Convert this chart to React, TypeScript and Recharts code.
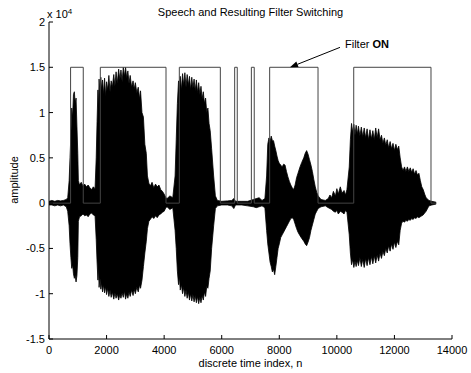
import React from "react";
import {
  Area,
  ComposedChart,
  Line,
  ReferenceDot,
  ReferenceLine,
  XAxis,
  YAxis,
} from "recharts";

// envolvente de la voz: [muestra n, máximo, mínimo]
const silencioInicial = [
  [0, 200, -200], [100, 300, -200], [200, 200, -300], [300, 300, -200],
  [400, 250, -300], [500, 300, -200], [600, 400, -400], [650, 600, -900],
];
const rafaga1 = [
  [700, 2500, -2500], [730, 5000, -4500], [760, 7500, -6000], [790, 10500, -7200],
  [820, 9500, -6800], [850, 12000, -7800], [880, 12300, -8300], [910, 11000, -8000],
  [940, 11600, -8700], [970, 8500, -8000], [1000, 5500, -6000], [1020, 2500, -2000],
  [1060, 2000, -1500], [1120, 2300, -1400], [1180, 1900, -1200], [1240, 2100, -1400],
  [1300, 1800, -1300], [1360, 2000, -1500], [1420, 1700, -1200], [1480, 1500, -1100],
  [1540, 1800, -1300], [1600, 1600, -1400],
];
const rafaga2 = [
  [1640, 5000, -4000], [1670, 9000, -6500], [1700, 12500, -8500], [1720, 10500, -7000],
  [1740, 13700, -9300], [1770, 12000, -8200], [1800, 13900, -9500], [1830, 12500, -8800],
  [1860, 13600, -9800], [1900, 12000, -9000], [1930, 13800, -9900], [1970, 11800, -9200],
  [2000, 13400, -10100], [2040, 12500, -9400], [2080, 14100, -10300], [2120, 12300, -9600],
  [2160, 13500, -10400], [2200, 12800, -9800], [2250, 14200, -10600], [2290, 12900, -9900],
  [2330, 14500, -10500], [2370, 13200, -10000], [2420, 14800, -10700], [2460, 13600, -10100],
  [2500, 14700, -10500], [2540, 13400, -9900], [2580, 15000, -10400], [2620, 14000, -9700],
  [2660, 15000, -10600], [2700, 13800, -10000], [2740, 14600, -10500], [2780, 13200, -9800],
  [2820, 14100, -10300], [2870, 12800, -9600], [2920, 13500, -10200], [2960, 12600, -9500],
  [3000, 13300, -10000], [3050, 12200, -9300], [3100, 12800, -9800], [3150, 11500, -9000],
  [3180, 12400, -9400], [3230, 10000, -8500], [3280, 9500, -7000], [3330, 6500, -5500],
  [3380, 5500, -4200], [3420, 3000, -2800], [3470, 2200, -2000], [3520, 1900, -1800],
  [3580, 2300, -1500], [3640, 1700, -1700], [3700, 2100, -1400], [3760, 1800, -1600],
  [3820, 2000, -1300], [3880, 1500, -1200], [3940, 1300, -1000], [4000, 1000, -900],
  [4060, 600, -500], [4100, 500, -400], [4200, 800, -700], [4300, 600, -500],
];
const rafaga3 = [
  [4380, 3000, -3000], [4420, 7000, -5000], [4460, 11000, -7500], [4500, 13500, -9000],
  [4530, 12000, -8200], [4560, 14000, -9600], [4600, 12500, -9000], [4640, 14300, -10000],
  [4680, 13000, -9300], [4720, 14400, -10300], [4760, 12800, -9600], [4800, 14200, -10500],
  [4840, 13000, -9800], [4880, 14000, -10700], [4920, 12500, -10000], [4960, 13900, -10800],
  [5000, 12700, -10100], [5040, 13700, -10900], [5080, 12400, -10200], [5120, 13600, -11000],
  [5160, 12200, -10300], [5200, 13300, -11100], [5240, 12000, -10400], [5280, 12900, -11000],
  [5320, 11500, -10200], [5360, 12300, -10700], [5400, 11000, -9800], [5440, 11600, -10300],
  [5480, 10000, -9200], [5520, 10500, -9400], [5560, 8800, -8300], [5600, 8000, -7500],
  [5650, 6000, -5000], [5720, 3000, -2500], [5780, 800, -600], [5850, 300, -300],
];
const silencioMedio = [
  [6000, 200, -200], [6200, 250, -200], [6350, 300, -300], [6420, 500, -600],
  [6480, 200, -200], [6700, 200, -200], [6900, 200, -300], [7100, 400, -400],
  [7200, 500, -500], [7300, 600, -400], [7400, 300, -300], [7500, 500, -500],
];
const rafaga4 = [
  [7560, 3000, -3000], [7600, 6500, -4500], [7640, 7200, -5500], [7680, 6800, -6500],
  [7720, 7400, -7000], [7760, 6900, -7600], [7800, 6900, -7300], [7840, 6300, -7900],
  [7880, 5800, -7000], [7920, 5200, -6000], [7960, 4700, -5000], [8000, 4400, -4500],
  [8050, 4200, -3800], [8100, 4000, -3500], [8150, 4300, -3200], [8200, 4200, -2900],
  [8250, 3500, -2600], [8300, 2900, -2300], [8350, 2400, -2000], [8400, 2000, -1700],
  [8450, 1700, -1600], [8500, 1500, -1800], [8550, 2000, -2300], [8600, 2800, -2800],
  [8650, 3300, -3200], [8720, 4000, -3600], [8780, 4500, -3900], [8850, 5000, -4200],
  [8900, 5500, -4500], [8950, 5800, -4700], [9000, 5400, -4300], [9050, 4800, -3800],
  [9100, 4200, -3000], [9150, 3500, -2400], [9200, 2600, -1800], [9250, 1800, -1200],
  [9300, 1200, -900], [9350, 800, -600], [9450, 400, -400],
];
const ruido = [
  [9600, 300, -300], [9700, 500, -500], [9760, 900, -600], [9820, 600, -700],
  [9880, 1300, -900], [9950, 800, -1000], [10000, 1600, -800], [10050, 1000, -1200],
  [10120, 1800, -900], [10180, 1100, -1000], [10250, 1400, -1200], [10300, 900, -800],
  [10350, 1500, -1000],
];
const rafaga5 = [
  [10430, 4000, -3500], [10470, 7000, -5500], [10510, 8800, -6800], [10550, 7800, -6200],
  [10590, 8700, -7100], [10630, 7500, -6400], [10670, 8600, -7000], [10710, 7600, -6300],
  [10750, 8500, -6900], [10800, 7400, -6000], [10850, 8400, -7000], [10900, 7300, -6200],
  [10950, 8300, -7100], [11000, 7200, -6100], [11050, 8200, -6900], [11100, 7000, -6000],
  [11150, 8100, -6800], [11200, 7100, -5900], [11250, 8000, -6700], [11300, 7000, -5800],
  [11350, 8300, -6600], [11400, 7200, -5700], [11450, 8200, -6400], [11500, 7000, -5500],
  [11550, 7500, -6100], [11600, 6600, -5300], [11650, 7200, -5800], [11700, 6400, -5000],
  [11750, 7000, -5500], [11800, 6100, -4700], [11850, 6800, -5300], [11900, 6000, -4500],
  [11950, 6600, -5100], [12000, 5800, -4300], [12050, 6500, -4900], [12100, 5900, -4200],
  [12150, 6300, -4600], [12200, 5000, -3000], [12250, 4000, -2200], [12300, 3600, -2000],
  [12350, 4000, -2100], [12400, 3500, -1900], [12450, 4000, -2000], [12500, 3500, -1800],
  [12550, 3900, -1900], [12600, 3400, -1700], [12650, 3800, -1800], [12700, 3200, -1600],
  [12750, 3600, -1700], [12800, 3100, -1500], [12850, 3300, -1600], [12900, 2500, -1500],
  [12950, 1800, -1400], [13000, 1500, -1300], [13050, 1000, -1100], [13100, 600, -900],
  [13200, 300, -300], [13300, 200, -200], [13450, 100, -100],
];

// conmutación del filtro (encendido = 1.5e4)
const cambiosFiltro = [0, 750, 1190, 1783, 4065, 4527, 5952, 6450, 6540, 7030, 7130, 7666, 9346, 10586, 13270, 13450];
const estadoFiltro = [0, 15000, 0, 15000, 0, 15000, 0, 15000, 0, 15000, 0, 15000, 0, 15000, 0, 0];

const ticksX = [0, 2000, 4000, 6000, 8000, 10000, 12000, 14000];
const ticksY = [-15000, -10000, -5000, 0, 5000, 10000, 15000, 20000];

const datosVoz = [
  ...silencioInicial, ...rafaga1, ...rafaga2, ...rafaga3, ...silencioMedio,
  ...rafaga4, ...ruido, ...rafaga5,
].map(([n, hi, lo]) => ({ n, rango: [lo, hi] }));
const datosFiltro = cambiosFiltro.map((n, i) => ({ n, f: estadoFiltro[i] }));

const fuente = "'Liberation Sans', Arial, sans-serif";
const TICK = 4;

const TickAbajo = (props: any) => {
  const { x, y, payload } = props;
  return (
    <g>
      <line x1={x} y1={y} x2={x} y2={y - TICK} stroke="#000" />
      <text x={x} y={y + 15} textAnchor="middle" fontSize={11} fontFamily={fuente} fill="#000">
        {payload.value}
      </text>
    </g>
  );
};

const TickArriba = (props: any) => {
  const { x, y } = props;
  return <line x1={x} y1={y} x2={x} y2={y + TICK} stroke="#000" />;
};

const TickIzq = (props: any) => {
  const { x, y, payload } = props;
  return (
    <g>
      <line x1={x} y1={y} x2={x + TICK} y2={y} stroke="#000" />
      <text x={x - 4} y={y + 4} textAnchor="end" fontSize={11} fontFamily={fuente} fill="#000">
        {String(payload.value / 10000)}
      </text>
    </g>
  );
};

const TickDer = (props: any) => {
  const { x, y } = props;
  return <line x1={x} y1={y} x2={x - TICK} y2={y} stroke="#000" />;
};

const Flecha = (props: any) => {
  const { x1, y1, x2, y2 } = props;
  const ang = Math.atan2(y2 - y1, x2 - x1);
  const L = 8;
  const W = 3;
  const bx = x2 - L * Math.cos(ang);
  const by = y2 - L * Math.sin(ang);
  const px = -Math.sin(ang) * W;
  const py = Math.cos(ang) * W;
  return (
    <g>
      <line x1={x1} y1={y1} x2={bx} y2={by} stroke="#000" strokeWidth={1} />
      <polygon points={`${x2},${y2} ${bx + px},${by + py} ${bx - px},${by - py}`} fill="#000" />
    </g>
  );
};

const TextoFiltro = (props: any) => {
  const { cx, cy } = props;
  return (
    <text x={cx} y={cy + 4} fontSize={11} fontFamily={fuente} fill="#000">
      Filter <tspan fontWeight="bold">ON</tspan>
    </text>
  );
};

export default function App() {
  return (
    <div style={{ position: "absolute", left: 0, top: 0, width: 471, height: 373, background: "#fff", fontFamily: fuente }}>
      <ComposedChart width={471} height={373} margin={{ top: 22, right: 19, bottom: 0, left: 0 }}>
        <XAxis
          xAxisId="abajo"
          dataKey="n"
          type="number"
          domain={[0, 14000]}
          ticks={ticksX}
          interval={0}
          tickSize={0}
          tickMargin={0}
          tickLine={false}
          tick={<TickAbajo />}
          axisLine={{ stroke: "#000" }}
          height={34}
          allowDataOverflow
        />
        <XAxis
          xAxisId="arriba"
          orientation="top"
          dataKey="n"
          type="number"
          domain={[0, 14000]}
          ticks={ticksX}
          interval={0}
          tickSize={0}
          tickMargin={0}
          tickLine={false}
          tick={<TickArriba />}
          axisLine={{ stroke: "#000" }}
          height={0}
          allowDataOverflow
        />
        <YAxis
          yAxisId="izq"
          type="number"
          domain={[-15000, 20000]}
          ticks={ticksY}
          interval={0}
          tickSize={0}
          tickMargin={0}
          tickLine={false}
          tick={<TickIzq />}
          axisLine={{ stroke: "#000" }}
          width={49}
          allowDataOverflow
        />
        <YAxis
          yAxisId="der"
          orientation="right"
          type="number"
          domain={[-15000, 20000]}
          ticks={ticksY}
          interval={0}
          tickSize={0}
          tickMargin={0}
          tickLine={false}
          tick={<TickDer />}
          axisLine={{ stroke: "#000" }}
          width={0}
          allowDataOverflow
        />
        <Area
          xAxisId="abajo"
          yAxisId="izq"
          data={datosVoz}
          dataKey="rango"
          type="linear"
          fill="#000"
          fillOpacity={1}
          stroke="#000"
          strokeWidth={0.8}
          dot={false}
          activeDot={false}
          isAnimationActive={false}
        />
        <Line
          xAxisId="arriba"
          yAxisId="der"
          data={datosFiltro}
          dataKey="f"
          type="stepAfter"
          stroke="#444"
          strokeWidth={1}
          dot={false}
          activeDot={false}
          isAnimationActive={false}
        />
        <ReferenceLine
          xAxisId="abajo"
          yAxisId="izq"
          segment={[
            { x: 10109, y: 17200 },
            { x: 8372, y: 15000 },
          ]}
          stroke="#000"
          shape={<Flecha />}
          ifOverflow="visible"
        />
        <ReferenceDot
          xAxisId="abajo"
          yAxisId="izq"
          x={10283}
          y={17550}
          r={0}
          shape={<TextoFiltro />}
          ifOverflow="visible"
        />
      </ComposedChart>
      <div style={{ position: "absolute", left: 49, width: 403, top: 6, textAlign: "center", fontSize: 11, lineHeight: "13px" }}>
        Speech and Resulting Filter Switching
      </div>
      <div style={{ position: "absolute", left: 47, top: 8, fontSize: 11, lineHeight: "13px", whiteSpace: "nowrap" }}>
        x 10<sup style={{ fontSize: 8, verticalAlign: "top", position: "relative", top: -3 }}>4</sup>
      </div>
      <div style={{ position: "absolute", left: 49, width: 403, top: 357, textAlign: "center", fontSize: 11, lineHeight: "13px" }}>
        discrete time index, n
      </div>
      <div
        style={{
          position: "absolute",
          left: 14,
          top: 180,
          fontSize: 11,
          lineHeight: "13px",
          whiteSpace: "nowrap",
          transform: "translate(-50%, -50%) rotate(-90deg)",
        }}
      >
        amplitude
      </div>
    </div>
  );
}
